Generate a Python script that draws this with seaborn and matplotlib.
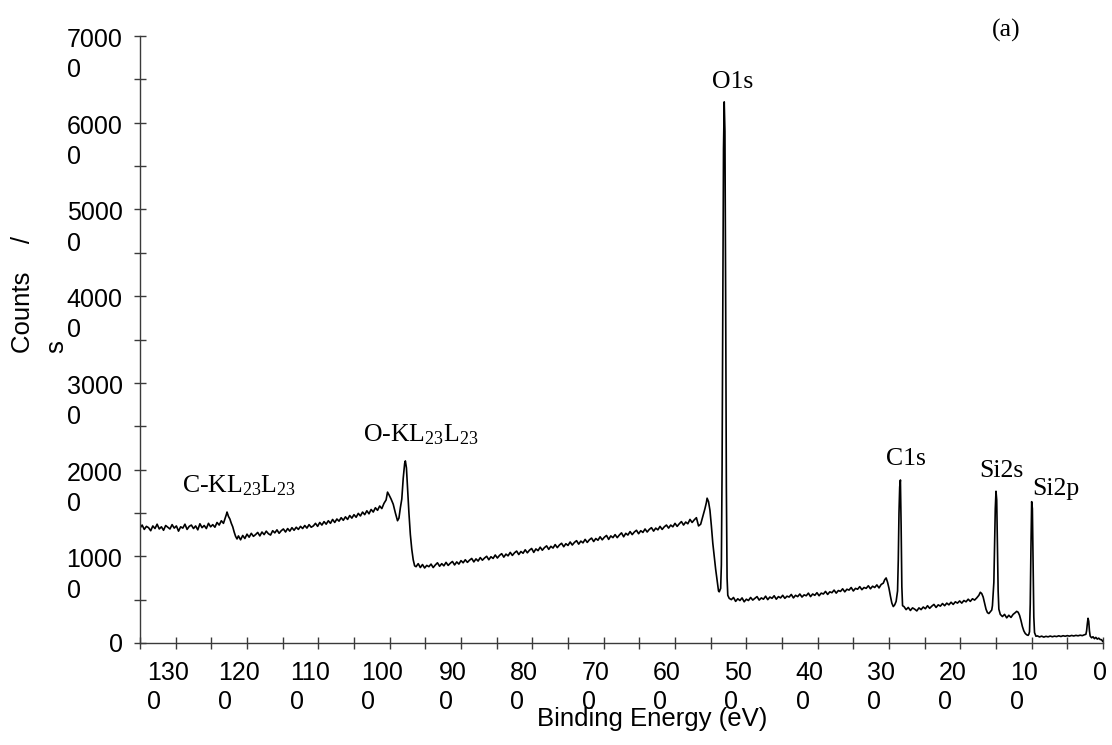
import matplotlib
matplotlib.use("Agg")
import matplotlib.pyplot as plt
import seaborn as sns
import pandas as pd
from matplotlib.transforms import ScaledTranslation

# ---------------- data ----------------
# Background stretches: counts/s sampled every 3 eV starting at the given binding energy.
bg_step_ev = 3
bg_1350_start = 1350
bg_1350_counts = [
    13250, 13600, 13100, 13450, 13300, 12950, 13500, 13200, 13700, 13150, 13400, 13000,
    13550, 13350, 13150, 13650, 13250, 13500, 12900, 13400, 13250, 13700, 13100, 13450,
    13600, 13200, 13500, 13050, 13750, 13300, 13550, 13200, 13800, 13400, 13650, 13350,
    13900, 13600, 14100, 13800,
]
ckll_peak = [
    (1231, 14300), (1229, 14800), (1228, 15100), (1226, 14600), (1224, 14300), (1222, 13800),
    (1220, 13400), (1218, 12800), (1216, 12300), (1214, 12000),
]
bg_1212_start = 1212
bg_1212_counts = [
    12350, 11900, 12400, 12050, 12550, 12200, 12650, 12300, 12500, 12750, 12350, 12800,
    12500, 12900, 12600, 12450, 12950, 12700, 13050, 12650, 12950, 13150, 12800, 13200,
    12900, 13300, 13000, 13350, 13100, 13450, 13200, 13550, 13250, 13650, 13350, 13500,
    13800, 13450, 13900, 13600, 14000, 13700, 14100, 13800, 14250, 13900, 14300, 14050,
    14450, 14150, 14550, 14250, 14700, 14400, 14800, 14500, 14950, 14650, 15100, 14800,
    15250, 14900, 15400, 15100, 15600, 15300,
]
okll_peak = [
    (1014, 15800), (1011, 15500), (1008, 16100), (1005, 16500), (1003, 17400), (1001, 17100),
    (998, 16600), (995, 16000), (992, 15000), (989, 14100), (987, 14400), (985, 15600),
    (983, 16600), (981, 19000), (979, 20700), (978, 21000), (976.5, 20200), (975, 18000),
    (973, 15000), (971, 12500), (969, 10800), (967, 9600), (965, 8900),
]
bg_963_start = 963
bg_963_counts = [
    8800, 9150, 8700, 9050, 8650, 8950, 8800, 9100, 8700, 9000, 9250, 8850, 9150, 8900,
    9300, 8950, 9200, 9400, 9000, 9350, 9100, 9500, 9250, 9600, 9300, 9550, 9750, 9350,
    9700, 9450, 9850, 9550, 9800, 10000, 9600, 9950, 9750, 10150, 9800, 10100, 10300, 9900,
    10250, 10050, 10450, 10100, 10400, 10600, 10200, 10550, 10350, 10750, 10400, 10700,
    10900, 10450, 10850, 10650, 11050, 10700, 11000, 11200, 10800, 11150, 10950, 11350,
    11000, 11300, 11500, 11100, 11450, 11250, 11650, 11300, 11600, 11800, 11400, 11750,
    11550, 11950, 11600, 11900, 12100, 11700, 12050, 11850, 12250, 11900, 12200, 12400,
    11950, 12350, 12150, 12500, 12150, 12450, 12700, 12250, 12650, 12450, 12850, 12500,
    12800, 13000, 12600, 12950, 12750, 13150, 12800, 13100, 13300, 12900, 13250, 13050,
    13450, 13100, 13400, 13600, 13250, 13600, 13400, 13800, 13450, 13750, 14000, 13600,
    13950, 13750, 14250, 13900, 14200, 14450, 13500, 13700,
]
o1s_peak = [
    (561, 14600), (558, 15500), (556, 16200), (555, 16700), (553, 16300), (551, 15300),
    (549, 13500), (547, 11500), (545, 10000), (543, 8500), (541, 7200), (539, 6000),
    (538, 5900), (536, 6300), (535, 9000), (534, 20000), (533, 40000), (532, 57000),
    (531, 62400), (530, 59000), (529, 40000), (528, 18000), (527, 7500), (526, 5500),
    (524, 5150),
]
bg_521_start = 521
bg_521_counts = [
    5000, 5250, 4800, 5100, 4900, 5200, 4750, 5050, 4900, 5250, 4950, 5150, 5350, 4950,
    5200, 5050, 5400, 5000, 5300, 5150, 5450, 5050, 5350, 5200, 5500, 5150, 5400, 5300,
    5600, 5200, 5500, 5350, 5650, 5300, 5550, 5450, 5750, 5350, 5650, 5500, 5800, 5450,
    5750, 5650, 5950, 5600, 5900, 5800, 6100, 5750, 6050, 5950, 6250, 5900, 6200, 6100,
    6400, 6000, 6300, 6200, 6500, 6150, 6400, 6300, 6600, 6250, 6550, 6400, 6700, 6350,
    6750,
]
c1s_peak = [
    (308, 6900), (306, 7300), (304, 7500), (302, 7000), (300, 6300), (298, 5400), (296, 4600),
    (294, 4200), (292, 4400), (290, 4800), (288, 6000), (287, 9500), (286, 15000),
    (285, 18000), (284, 18800), (283, 13500), (282, 6500), (281, 4300),
]
bg_279_start = 279
bg_279_counts = [
    4200, 3850, 4100, 3750, 4050, 3900, 3700, 4050, 3850, 4150, 3950, 4300, 4000, 4250,
    4450, 4100, 4400, 4250, 4550, 4300, 4600, 4400, 4700, 4450, 4750, 4600, 4850, 4600,
    4900, 4750, 5050, 4800, 5100, 4950, 5200,
]
si_peaks = [
    (174, 5500), (172, 5850), (170, 5700), (168, 5300), (166, 4600), (164, 3900), (162, 3500),
    (160, 3400), (158, 3600), (156, 3800), (155, 4300), (153, 7000), (152, 11000),
    (151, 15500), (150, 17500), (149, 16500), (148, 11000), (147, 6000), (146, 3900),
    (144, 3300), (141, 3050), (138, 3300), (135, 2900), (132, 3200), (129, 2950),
    (126, 3300), (123, 3500), (121, 3650), (119, 3550), (117, 3200), (115, 2600),
    (113, 1900), (111, 1400), (109, 1100), (107, 950), (105, 880), (104, 1000), (103, 1300),
    (102, 4500), (101, 11000), (100, 16300), (99, 15500), (98, 9000), (97, 3000),
    (96, 1200), (94, 780),
]
bg_93_start = 92
bg_93_counts = [
    820, 700, 790, 680, 770, 710, 800, 720, 790, 740, 830, 750, 840, 780, 850, 790, 870,
    810, 880, 830, 900, 850, 950,
]
o2s_peak = [
    (24, 1000), (23, 1400), (22, 2200), (21, 2850), (20, 2500), (19, 1400), (18, 800),
    (16, 600), (14, 720), (12, 500), (10, 650), (8, 450), (6, 560), (4, 400), (2, 380),
    (1, 250), (0, 150),
]

x_major_ticks = [1300, 1200, 1100, 1000, 900, 800, 700, 600, 500, 400, 300, 200, 100, 0]
x_tick_labels = ["130\n0", "120\n0", "110\n0", "100\n0", "90\n0", "80\n0", "70\n0",
                 "60\n0", "50\n0", "40\n0", "30\n0", "20\n0", "10\n0", "0"]
x_minor_ticks = [1350, 1250, 1150, 1050, 950, 850, 750, 650, 550, 450, 350, 250, 150, 50]
y_major_ticks = [0, 10000, 20000, 30000, 40000, 50000, 60000, 70000]
y_tick_labels = ["0", "1000\n0", "2000\n0", "3000\n0", "4000\n0", "5000\n0", "6000\n0", "7000\n0"]
y_minor_ticks = [5000, 15000, 25000, 35000, 45000, 55000, 65000]

peak_names = [r"C-KL$_{\mathrm{23}}$L$_{\mathrm{23}}$", r"O-KL$_{\mathrm{23}}$L$_{\mathrm{23}}$",
              "O1s", "C1s", "Si2s", "Si2p"]
peak_label_be = [1291.5, 1037, 548.5, 304, 173.4, 98.5]
peak_label_counts = [17400, 23200, 64000, 20500, 19200, 17050]


def background(start, values):
    return [(start - bg_step_ev * i, v) for i, v in enumerate(values)]


pieces = [
    background(bg_1350_start, bg_1350_counts), ckll_peak,
    background(bg_1212_start, bg_1212_counts), okll_peak,
    background(bg_963_start, bg_963_counts), o1s_peak,
    background(bg_521_start, bg_521_counts), c1s_peak,
    background(bg_279_start, bg_279_counts), si_peaks,
    background(bg_93_start, bg_93_counts), o2s_peak,
]
rows = [pt for piece in pieces for pt in piece]
df = pd.DataFrame(rows, columns=["be", "counts"])

# ---------------- style ----------------
sns.set_style("ticks")
plt.rcParams["font.family"] = ["Liberation Sans", "DejaVu Sans"]
plt.rcParams["text.color"] = "black"
plt.rcParams["mathtext.fontset"] = "custom"
plt.rcParams["mathtext.rm"] = "Liberation Serif"
plt.rcParams["mathtext.it"] = "Liberation Serif:italic"
plt.rcParams["mathtext.bf"] = "Liberation Serif:bold"

axis_color = "#3a3a3a"
W, H = 1112, 745
fig = plt.figure(figsize=(W / 100, H / 100), dpi=100)
ax = fig.add_axes([140 / W, 1 - 643 / H, (1103 - 140) / W, (643 - 36) / H])

sns.lineplot(data=df, x="be", y="counts", ax=ax, color="black", lw=1.2,
             estimator=None, sort=False)

ax.set_xlim(1350, 0)
ax.set_ylim(0, 70000)
ax.set_xlabel("")
ax.set_ylabel("")

for side in ["top", "right"]:
    ax.spines[side].set_visible(False)
for side in ["left", "bottom"]:
    ax.spines[side].set_color(axis_color)
    ax.spines[side].set_linewidth(1.0)

ax.set_xticks(x_major_ticks, x_tick_labels)
ax.set_xticks(x_minor_ticks, minor=True)
ax.set_yticks(y_major_ticks, y_tick_labels)
ax.set_yticks(y_minor_ticks, minor=True)
ax.tick_params(axis="both", which="both", direction="inout", length=8, width=1.0,
               color=axis_color, labelsize=18, labelcolor="black")
ax.tick_params(axis="x", which="major", pad=8.7)
ax.tick_params(axis="y", which="major", pad=8.6)

fig.canvas.draw()
for lbl in ax.get_xticklabels():
    lbl.set_multialignment("left")
    lbl.set_linespacing(1.3)
    dx = -0.08 if "\n" in lbl.get_text() else -0.03
    lbl.set_transform(lbl.get_transform() + ScaledTranslation(dx, 0, fig.dpi_scale_trans))
for lbl in ax.get_yticklabels():
    lbl.set_multialignment("left")
    lbl.set_linespacing(1.33)
    if "\n" in lbl.get_text():
        lbl.set_verticalalignment("top")
        lbl.set_transform(lbl.get_transform() + ScaledTranslation(0, 0.08, fig.dpi_scale_trans))

for name, xb, yc in zip(peak_names, peak_label_be, peak_label_counts):
    ax.text(xb, yc, name, family="Liberation Serif", fontsize=18.5,
            ha="left", va="baseline", color="black")

fig.text(991.7 / W, 1 - 37 / H, "(a)", family="Liberation Serif", fontsize=18.5,
         ha="left", va="baseline", color="black")
fig.text(537 / W, 1 - 707 / H, "Binding Energy (eV)", fontsize=18.5, ha="left", va="top",
         color="black")
fig.text(11 / W, 1 - 353 / H, "Counts    /\ns", fontsize=18.5, rotation=90,
         ha="left", va="bottom", multialignment="left", linespacing=1.47, color="black")

fig.savefig("out.png", dpi=100)
